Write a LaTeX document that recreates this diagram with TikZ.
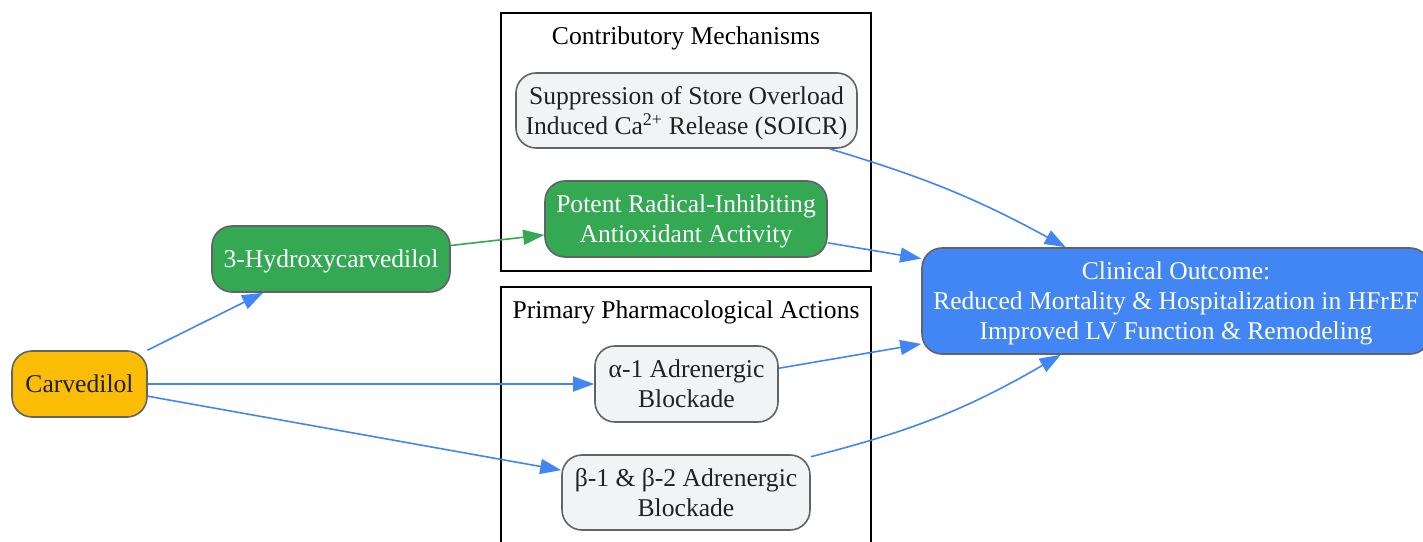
\documentclass[tikz,border=0pt]{standalone}
\usepackage{fontspec}
\setmainfont{Liberation Serif}
\usetikzlibrary{arrows.meta}
\definecolor{gyellow}{HTML}{FBBC05}
\definecolor{ggreen}{HTML}{34A853}
\definecolor{gblue}{HTML}{4285F4}
\definecolor{paleg}{HTML}{F1F3F4}
\definecolor{nodeline}{HTML}{606368}
\definecolor{darktext}{HTML}{202124}

\begin{document}
\begin{tikzpicture}[x=1pt, y=1pt,
        font=\fontsize{25.6}{30}\selectfont,
        box/.style={rectangle, rounded corners=20pt, draw=nodeline, line width=1.6pt, align=center, inner sep=3pt, text depth=-6pt, text=darktext},
        drug/.style={box, fill=gyellow},
        metab/.style={box, fill=ggreen, text=white},
        effect/.style={box, fill=paleg},
        goal/.style={box, fill=gblue, text=white},
        cluster/.style={rectangle, draw=black, line width=1.6pt},
        arrow/.style={-{Triangle[length=21pt, width=15pt]}, line width=1.6pt, draw=gblue},
        garrow/.style={arrow, draw=ggreen}
    ]
        \useasboundingbox (0,0) rectangle (1423,541);

        % Groups
        \node[cluster, minimum width=370, minimum height=258] (contrib) at (686,399) {};
        \node (contribtitle) at (686,503) {Contributory Mechanisms};
        \node[cluster, minimum width=370, minimum height=274] (primary) at (686,117) {};
        \node (primarytitle) at (686,229) {Primary Pharmacological Actions};

        % Drug and metabolite
        \node[drug, minimum width=135, minimum height=66] (carv) at (79.5,157) {Carvedilol};
        \node[metab, minimum width=238, minimum height=66] (hydroxy) at (331,282) {3-Hydroxycarvedilol};

        % Mechanisms
        \node[effect, minimum width=341, minimum height=75] (soicr) at (686.5,430.5)
            {Suppression of Store Overload\\Induced Ca\textsuperscript{2+} Release (SOICR)};
        \node[metab, minimum width=282, minimum height=76] (radical) at (686,322)
            {Potent Radical-Inhibiting\\Antioxidant Activity};
        \node[effect, minimum width=183, minimum height=76] (alpha) at (686.5,157)
            {α-1 Adrenergic\\Blockade};
        \node[effect, minimum width=248, minimum height=75] (beta) at (686,48.5)
            {β-1 \& β-2 Adrenergic\\Blockade};

        % Outcome
        \node[goal, minimum width=508, minimum height=106] (outcome) at (1176,240)
            {Clinical Outcome:\\Reduced Mortality \& Hospitalization in HFrEF\\Improved LV Function \& Remodeling};

        % Connections
        \draw[arrow] (carv) -- (hydroxy);
        \draw[arrow] (carv) -- (alpha);
        \draw[arrow] (carv) -- (beta);
        \draw[garrow] (hydroxy) -- (radical);
        \draw[arrow] (soicr.-15) to[bend left=6] (outcome.154);
        \draw[arrow] (radical) -- (outcome);
        \draw[arrow] (alpha) -- (outcome);
        \draw[arrow] (beta.16) to[bend right=8] (outcome.-155);

    \end{tikzpicture}
\end{document}
